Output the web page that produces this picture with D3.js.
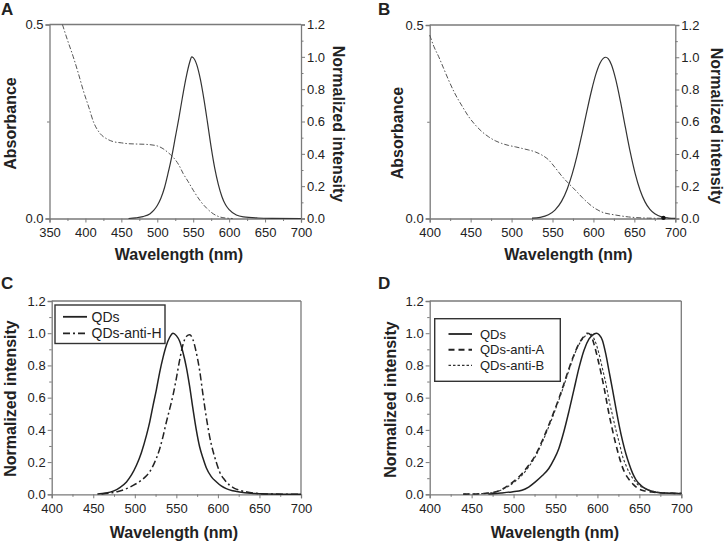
<!DOCTYPE html>
<html><head><meta charset="utf-8">
<script src="https://cdn.jsdelivr.net/npm/d3@7"></script>
<style>body{margin:0;background:#fff} text{font-family:"Liberation Sans",Arial,sans-serif;fill:#222}</style>
</head><body><svg id="c" width="725" height="543"></svg>
<script>
// ---------------- data ----------------
const xTicksA = [350,400,450,500,550,600,650,700];
const xTicksB = [400,450,500,550,600,650,700];
const absTicks = [0.0, 0.5];
const intTicks = [0.0,0.2,0.4,0.6,0.8,1.0,1.2];

// Panel A
const absA_nm  = [368,375,383,390,397,405,411,420,430,439,450,458,470,485,500,508,515,522,530,536,543,550,560,569,578,587,596,605];
const absA_val = [0.50,0.46,0.417,0.375,0.33,0.285,0.25,0.22,0.205,0.198,0.195,0.193,0.192,0.191,0.187,0.18,0.17,0.158,0.138,0.116,0.095,0.073,0.045,0.026,0.012,0.004,0.001,0];
const emA_nm  = [460,470,480,490,495,500,505,510,515,520,525,530,535,540,545,548,550,555,560,565,570,575,580,585,590,595,600,610,620,640,660,700];
const emA_val = [0,0.004,0.012,0.03,0.05,0.08,0.125,0.19,0.28,0.38,0.50,0.62,0.75,0.87,0.965,1.0,0.995,0.95,0.86,0.735,0.59,0.44,0.31,0.21,0.135,0.085,0.055,0.022,0.01,0.003,0.001,0];

// Panel B
const absB_nm  = [400,405,411,417,423,431,440,448,456,464,472,480,488,496,505,513,521,529,537,545,553,562,570,578,586,594,602,610,627,643,667,700];
const absB_val = [0.474,0.445,0.418,0.388,0.358,0.322,0.289,0.262,0.241,0.224,0.211,0.201,0.194,0.189,0.185,0.181,0.177,0.172,0.164,0.152,0.132,0.108,0.09,0.073,0.055,0.039,0.026,0.017,0.009,0.004,0.001,0];
const emB_nm  = [525,535,545,553,561,568,574,580,586,592,598,603,608,612,615,618,622,627,633,639,645,651,657,663,669,675,684,692,700];
const emB_val = [0.002,0.007,0.023,0.052,0.106,0.183,0.275,0.39,0.524,0.666,0.80,0.895,0.963,0.993,1.0,0.991,0.953,0.867,0.726,0.566,0.411,0.278,0.175,0.103,0.056,0.029,0.009,0.003,0.001];
const markerB = [[685.5, 0.004]];

// Panel C
const qdC_nm  = [455,465,474,482,490,496,502,508,514,518,522,526,530,534,538,542,546,550,554,558,562,566,570,574,578,582,586,592,598,604,610,618,626,640,660,700];
const qdC_val = [0.002,0.008,0.02,0.042,0.077,0.12,0.18,0.26,0.366,0.45,0.552,0.65,0.759,0.85,0.925,0.975,1.0,0.985,0.95,0.88,0.79,0.67,0.53,0.40,0.295,0.225,0.165,0.11,0.078,0.052,0.035,0.022,0.014,0.006,0.002,0];
const antiH_nm  = [460,470,480,490,498,506,512,518,524,530,534,538,542,546,550,554,558,562,566,570,574,578,582,586,590,594,598,602,608,614,620,627,635,643,660,700];
const antiH_val = [0.002,0.008,0.018,0.035,0.055,0.08,0.105,0.14,0.2,0.283,0.36,0.449,0.53,0.615,0.72,0.835,0.93,0.98,0.99,0.96,0.88,0.77,0.62,0.48,0.36,0.27,0.2,0.14,0.09,0.057,0.037,0.024,0.014,0.008,0.002,0];

// Panel D
const qdD_nm  = [470,485,498,510,518,526,534,542,548,554,560,566,572,578,584,590,596,599,602,606,610,614,618,622,626,630,634,638,642,646,652,658,664,670,680,690,700];
const qdD_val = [0.002,0.008,0.015,0.025,0.045,0.077,0.115,0.16,0.215,0.285,0.39,0.515,0.65,0.785,0.895,0.965,0.995,1.0,0.99,0.955,0.87,0.76,0.65,0.535,0.425,0.33,0.25,0.185,0.13,0.09,0.055,0.033,0.02,0.013,0.008,0.006,0.005];
const antiA_nm  = [440,460,478,494,502,510,518,526,534,542,548,554,560,566,572,578,583,588,592,596,600,604,608,613,617,621,625,629,633,637,643,649,657,665,680,700];
const antiA_val = [0.001,0.004,0.014,0.056,0.088,0.128,0.18,0.242,0.33,0.43,0.51,0.594,0.685,0.78,0.865,0.935,0.975,1.0,0.99,0.93,0.85,0.76,0.66,0.52,0.42,0.33,0.25,0.18,0.13,0.097,0.06,0.035,0.02,0.014,0.008,0.005];
const antiB_nm  = [440,460,478,494,502,510,518,526,534,542,548,554,560,566,572,578,584,590,594,598,602,606,610,614,618,622,626,630,634,638,642,649,655,665,680,700];
const antiB_val = [0.001,0.004,0.014,0.05,0.08,0.118,0.17,0.235,0.32,0.42,0.5,0.585,0.675,0.77,0.86,0.93,0.975,1.0,0.985,0.94,0.87,0.78,0.69,0.58,0.49,0.40,0.32,0.235,0.18,0.135,0.1,0.057,0.04,0.02,0.01,0.006];

const legendC = ["QDs","QDs-anti-H"];
const legendD = ["QDs","QDs-anti-A","QDs-anti-B"];

// ---------------- drawing ----------------
const svg = d3.select("#c");
const AXIS = "#7a7a7a", INK = "#222";
const fmt1 = d3.format(".1f"), fmtD = d3.format("d");

function styleAxis(g){
  g.select(".domain").attr("stroke", AXIS).attr("stroke-width", 1.3);
  g.selectAll(".tick line").attr("stroke", AXIS).attr("stroke-width", 1);
  g.selectAll(".tick text").attr("font-size", 13).attr("fill", INK)
    .attr("font-family", '"Liberation Sans",Arial,sans-serif');
}
function minorAxis(g, axisFn, scale, vals){
  g.call(axisFn(scale).tickValues(vals).tickSize(2.5).tickFormat(""));
  g.select(".domain").remove();
  g.selectAll(".tick line").attr("stroke", AXIS).attr("stroke-width", 1);
}
function mids(arr){ const r=[]; for(let i=0;i<arr.length-1;i++) r.push((arr[i]+arr[i+1])/2); return r; }

function panel(c){
  const x = d3.scaleLinear().domain(c.xDomain).range([c.L, c.R]);
  const yL = d3.scaleLinear().domain(c.leftDomain).range([c.B, c.T]);
  const yR = c.rightDomain ? d3.scaleLinear().domain(c.rightDomain).range([c.B, c.T]) : null;
  const g = svg.append("g");

  // frame
  g.append("line").attr("x1",c.L).attr("x2",c.R).attr("y1",c.T).attr("y2",c.T).attr("stroke",AXIS).attr("stroke-width",1.3);
  if(!yR) g.append("line").attr("x1",c.R).attr("x2",c.R).attr("y1",c.T).attr("y2",c.B).attr("stroke",AXIS).attr("stroke-width",1.3);

  // x axis
  const gx = g.append("g").attr("transform",`translate(0,${c.B})`);
  gx.call(d3.axisBottom(x).tickValues(c.xTicks).tickSize(4).tickPadding(5).tickFormat(fmtD));
  styleAxis(gx);
  minorAxis(g.append("g").attr("transform",`translate(0,${c.B})`), d3.axisBottom, x, mids(c.xTicks));

  // left axis
  const gl = g.append("g").attr("transform",`translate(${c.L},0)`);
  gl.call(d3.axisLeft(yL).tickValues(c.leftTicks).tickSize(4).tickPadding(2).tickFormat(fmt1));
  styleAxis(gl);
  minorAxis(g.append("g").attr("transform",`translate(${c.L},0)`), d3.axisLeft, yL, mids(c.leftTicks));

  if(yR){
    const gr = g.append("g").attr("transform",`translate(${c.R},0)`);
    gr.call(d3.axisRight(yR).tickValues(c.rightTicks).tickSize(4).tickPadding(2).tickFormat(fmt1));
    styleAxis(gr);
    minorAxis(g.append("g").attr("transform",`translate(${c.R},0)`), d3.axisRight, yR, mids(c.rightTicks));
  }

  // series
  c.series.forEach(s=>{
    const ys = s.axis==="right" ? yR : yL;
    const line = d3.line().x(d=>x(d[0])).y(d=>ys(d[1])).curve(d3.curveMonotoneX);
    g.append("path").datum(d3.zip(s.nm, s.val)).attr("d", line)
      .attr("fill","none").attr("stroke", s.color).attr("stroke-width", s.w)
      .attr("stroke-dasharray", s.dash || null);
  });
  if(c.markers){
    g.selectAll("circle.m").data(c.markers).join("circle")
      .attr("cx",d=>x(d[0])).attr("cy",d=>yR(d[1])).attr("r",2.2).attr("fill","#111");
  }

  // texts
  g.append("text").attr("x",c.letter[0]).attr("y",c.letter[1]).attr("font-size",17).attr("font-weight","bold").text(c.letterText);
  g.append("text").attr("x",c.xTitle[0]).attr("y",c.xTitle[1]).attr("text-anchor","middle")
    .attr("font-size",16).attr("font-weight","bold").text("Wavelength (nm)");
  g.append("text").attr("transform",`translate(${c.leftTitle[0]},${c.leftTitle[1]}) rotate(-90)`)
    .attr("text-anchor","middle").attr("dominant-baseline","central")
    .attr("font-size",16).attr("font-weight","bold").text(c.leftTitleText);
  if(c.rightTitle){
    g.append("text").attr("transform",`translate(${c.rightTitle[0]},${c.rightTitle[1]}) rotate(90)`)
      .attr("text-anchor","middle").attr("dominant-baseline","central")
      .attr("font-size",16).attr("font-weight","bold").text("Normalized intensity");
  }

  // legend
  if(c.legend){
    const lg = c.legend;
    g.append("rect").attr("x",lg.box[0]).attr("y",lg.box[1]).attr("width",lg.box[2]).attr("height",lg.box[3])
      .attr("fill","#fff").attr("stroke","#333").attr("stroke-width",1.4);
    lg.labels.forEach((t,i)=>{
      const s = c.series[i], yy = lg.y0 + i*lg.dy;
      g.append("line").attr("x1",lg.lx0).attr("x2",lg.lx1).attr("y1",yy).attr("y2",yy)
        .attr("stroke",s.color).attr("stroke-width",s.w+0.3).attr("stroke-dasharray",s.dash||null);
      g.append("text").attr("x",lg.tx).attr("y",yy).attr("dominant-baseline","central")
        .attr("font-size",lg.fs).text(t);
    });
  }
}

panel({L:49.5,R:301,T:24.5,B:218.5, xDomain:[350,700], xTicks:xTicksA,
  leftDomain:[0,0.5], leftTicks:absTicks, rightDomain:[0,1.2], rightTicks:intTicks,
  series:[{nm:absA_nm,val:absA_val,axis:"left",color:"#555",w:1,dash:"5,2,1.5,2"},
          {nm:emA_nm,val:emA_val,axis:"right",color:"#333",w:1.2}],
  letterText:"A", letter:[1,15], xTitle:[179,259.5], leftTitle:[10,123.5], leftTitleText:"Absorbance", rightTitle:[338,124]});

panel({L:429.7,R:675.3,T:25,B:218.5, xDomain:[400,700], xTicks:xTicksB,
  leftDomain:[0,0.5], leftTicks:absTicks, rightDomain:[0,1.2], rightTicks:intTicks,
  series:[{nm:absB_nm,val:absB_val,axis:"left",color:"#555",w:1,dash:"5,2,1.5,2"},
          {nm:emB_nm,val:emB_val,axis:"right",color:"#333",w:1.2}],
  markers:markerB,
  letterText:"B", letter:[378,15], xTitle:[568.5,259.5], leftTitle:[397,133], leftTitleText:"Absorbance", rightTitle:[716,126]});

panel({L:51.7,R:301,T:301,B:494.3, xDomain:[400,700], xTicks:xTicksB,
  leftDomain:[0,1.2], leftTicks:intTicks,
  series:[{nm:qdC_nm,val:qdC_val,color:"#222",w:1.5},
          {nm:antiH_nm,val:antiH_val,color:"#222",w:1.5,dash:"7,3,2,3"}],
  legend:{box:[55,305,110,38.5], labels:legendC, y0:316.8, dy:16.6, lx0:63, lx1:87, tx:91.5, fs:14},
  letterText:"C", letter:[1,289], xTitle:[174,537.5], leftTitle:[10,398.5], leftTitleText:"Normalized intensity"});

panel({L:429.7,R:681.3,T:301,B:494.3, xDomain:[400,700], xTicks:xTicksB,
  leftDomain:[0,1.2], leftTicks:intTicks,
  series:[{nm:qdD_nm,val:qdD_val,color:"#222",w:1.5},
          {nm:antiA_nm,val:antiA_val,color:"#222",w:1.6,dash:"6,4"},
          {nm:antiB_nm,val:antiB_val,color:"#333",w:1.1,dash:"2.5,2"}],
  legend:{box:[434.7,318.7,125.6,62.6], labels:legendD, y0:334, dy:15.7, lx0:448.5, lx1:472, tx:480, fs:13},
  letterText:"D", letter:[378,289], xTitle:[555,537.5], leftTitle:[390.5,399.5], leftTitleText:"Normalized intensity"});
</script>
</body></html>
